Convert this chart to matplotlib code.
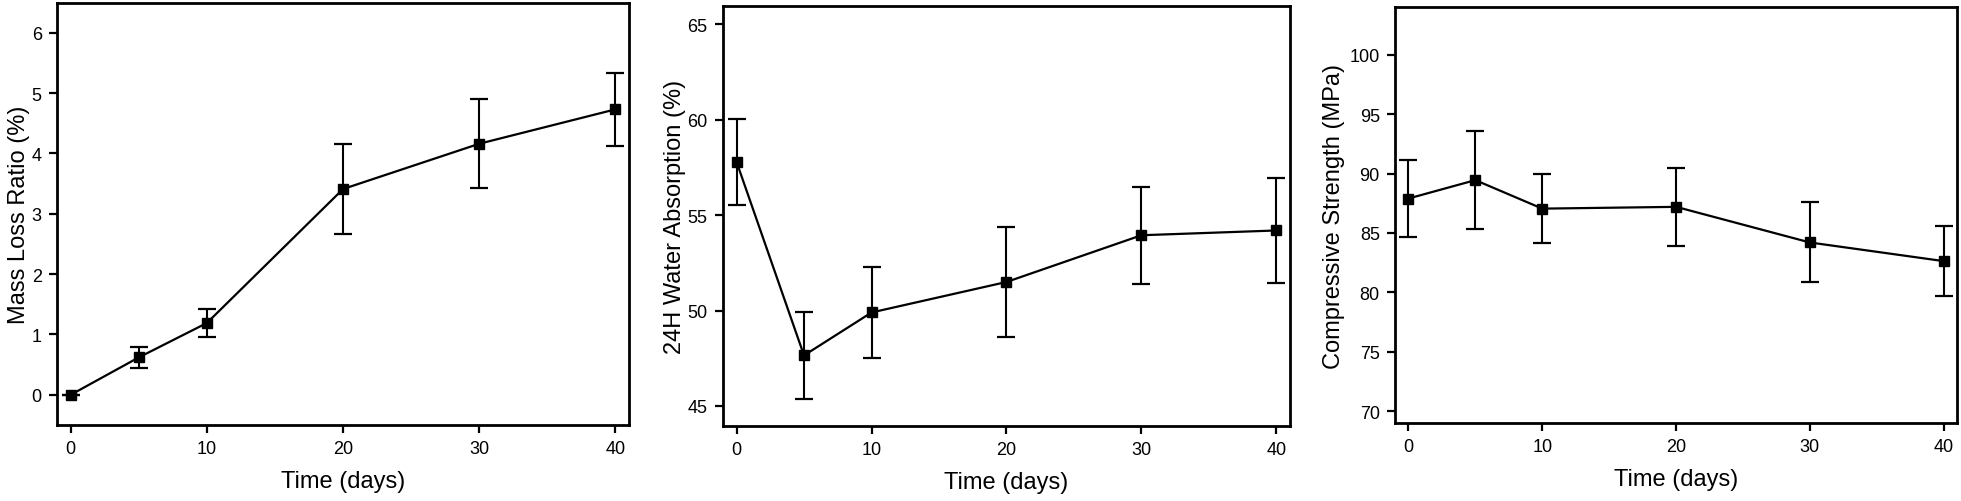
import matplotlib
matplotlib.use("Agg")
import matplotlib.pyplot as plt

plt.rcParams["font.family"] = ["Liberation Sans", "DejaVu Sans"]

# -------- datos --------
dias = [0, 5, 10, 20, 30, 40]

perdida_masa = [0.0, 0.62, 1.19, 3.41, 4.16, 4.73]
perdida_masa_err = [0.0, 0.18, 0.24, 0.74, 0.74, 0.61]

absorcion = [57.8, 47.65, 49.9, 51.5, 53.95, 54.2]
absorcion_err = [2.25, 2.27, 2.4, 2.9, 2.55, 2.77]

resistencia = [87.9, 89.45, 87.05, 87.2, 84.2, 82.63]
resistencia_err = [3.25, 4.1, 2.9, 3.3, 3.37, 2.93]

etiquetas_y = ["Mass Loss Ratio (%)", "24H Water Absorption (%)",
               "Compressive Strength (MPa)"]
limites_y = [(-0.5, 6.5), (43.95, 65.95), (69.0, 104.0)]
ticks_y = [range(0, 7), range(45, 66, 5), range(70, 101, 5)]
ticks_x = [0, 10, 20, 30, 40]

# posiciones de los ejes (fraccion de la figura)
cajas = [
    [0.0291, 0.1514, 0.2917, 0.8416],
    [0.3687, 0.1494, 0.2891, 0.8360],
    [0.7114, 0.1554, 0.2866, 0.8280],
]
pads_y = [1, 1, 3]

fig = plt.figure(figsize=(19.61, 5.02), dpi=100)

series = [(perdida_masa, perdida_masa_err),
          (absorcion, absorcion_err),
          (resistencia, resistencia_err)]

for i, (valores, errores) in enumerate(series):
    ax = fig.add_axes(cajas[i])
    ax.errorbar(dias, valores, yerr=errores, color="black",
                linewidth=1.6, elinewidth=1.5, capsize=6.5, capthick=1.6,
                marker="s", markersize=7.5, markerfacecolor="black",
                markeredgecolor="black")

    ax.set_xlim(-1.0, 41.0)
    ax.set_ylim(*limites_y[i])
    ax.set_xticks(ticks_x)
    ax.set_yticks(list(ticks_y[i]))

    for lado in ax.spines.values():
        lado.set_linewidth(2.0)

    ax.tick_params(axis="both", direction="out", length=6, width=1.6,
                   labelsize=13, pad=5)

    ax.set_xlabel("Time (days)", fontsize=17, labelpad=9)
    ax.set_ylabel(etiquetas_y[i], fontsize=17, labelpad=pads_y[i])

fig.savefig("out.png", dpi=100, facecolor="white")
